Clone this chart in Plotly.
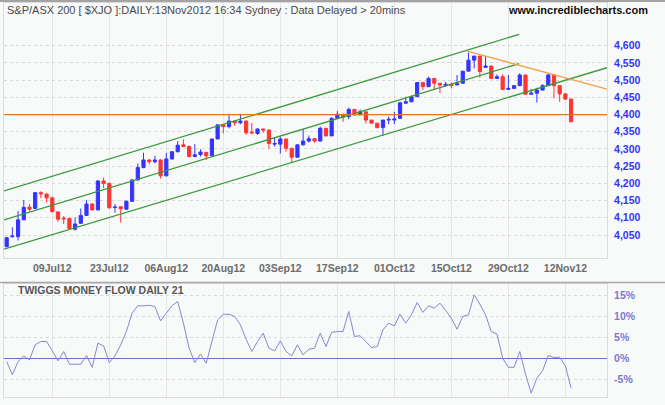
import pandas as pd
import plotly.graph_objects as go

# ---------------- data ----------------
dates = pd.bdate_range("2012-06-27", "2012-11-13")  # 100 ASX trading days

opens = [4016, 4045, 4045, 4094, 4131, 4127, 4173, 4169, 4158, 4117,
         4099, 4098, 4067, 4084, 4107, 4140, 4123, 4207, 4200, 4130,
         4132, 4125, 4148, 4210, 4246, 4268, 4263, 4268, 4222, 4271,
         4292, 4312, 4307, 4278, 4284, 4290, 4280, 4329, 4370, 4365,
         4381, 4376, 4381, 4349, 4345, 4358, 4355, 4314, 4314, 4329,
         4302, 4276, 4312, 4323, 4330, 4323, 4360, 4338, 4389, 4401,
         4394, 4415, 4399, 4408, 4384, 4375, 4362, 4384, 4384, 4389,
         4433, 4437, 4452, 4493, 4481, 4505, 4491, 4484, 4488, 4486,
         4491, 4526, 4558, 4570, 4537, 4541, 4505, 4510, 4473, 4476,
         4484, 4515, 4459, 4462, 4471, 4484, 4515, 4484, 4460, 4445]
highs = [4045, 4072, 4120, 4152, 4140, 4175, 4177, 4170, 4161, 4119,
         4105, 4101, 4101, 4127, 4152, 4142, 4209, 4217, 4202, 4140,
         4133, 4150, 4212, 4258, 4289, 4270, 4280, 4270, 4289, 4294,
         4323, 4328, 4311, 4314, 4299, 4290, 4329, 4370, 4371, 4402,
         4382, 4402, 4382, 4376, 4360, 4358, 4355, 4334, 4336, 4329,
         4302, 4312, 4358, 4339, 4330, 4365, 4360, 4392, 4410, 4401,
         4420, 4415, 4415, 4408, 4384, 4375, 4384, 4394, 4408, 4437,
         4452, 4455, 4493, 4493, 4510, 4505, 4491, 4495, 4493, 4515,
         4526, 4580, 4570, 4570, 4570, 4541, 4517, 4517, 4515, 4484,
         4520, 4515, 4474, 4478, 4488, 4520, 4515, 4484, 4462, 4445]
lows = [4014, 4043, 4034, 4094, 4118, 4125, 4157, 4144, 4115, 4089,
        4082, 4065, 4063, 4082, 4105, 4121, 4121, 4186, 4127, 4115,
        4086, 4123, 4146, 4208, 4244, 4255, 4258, 4214, 4220, 4269,
        4290, 4305, 4276, 4276, 4278, 4268, 4278, 4329, 4345, 4360,
        4367, 4372, 4341, 4343, 4341, 4347, 4300, 4307, 4287, 4292,
        4260, 4275, 4310, 4319, 4318, 4323, 4336, 4338, 4389, 4379,
        4386, 4396, 4399, 4374, 4375, 4360, 4338, 4372, 4372, 4387,
        4433, 4437, 4452, 4471, 4481, 4474, 4462, 4481, 4476, 4486,
        4491, 4526, 4534, 4507, 4537, 4505, 4503, 4473, 4473, 4476,
        4484, 4459, 4459, 4435, 4471, 4484, 4447, 4437, 4442, 4379]
closes = [4042, 4047, 4094, 4130, 4125, 4173, 4170, 4158, 4118, 4096,
          4097, 4069, 4082, 4107, 4140, 4123, 4207, 4200, 4129, 4131,
          4126, 4148, 4210, 4246, 4268, 4263, 4268, 4222, 4271, 4292,
          4311, 4307, 4278, 4283, 4291, 4280, 4329, 4370, 4365, 4381,
          4376, 4381, 4347, 4347, 4358, 4355, 4316, 4316, 4329, 4302,
          4276, 4312, 4323, 4330, 4323, 4360, 4338, 4389, 4401, 4392,
          4415, 4399, 4408, 4384, 4375, 4362, 4384, 4386, 4387, 4434,
          4437, 4452, 4493, 4481, 4505, 4491, 4486, 4488, 4484, 4491,
          4526, 4558, 4570, 4525, 4541, 4505, 4510, 4473, 4476, 4484,
          4515, 4459, 4462, 4471, 4484, 4515, 4484, 4460, 4445, 4379]

tmf = [-0.8, -4.0, -0.8, 0.55, -0.4, 3.2, 4.0, 4.0, 1.8, -0.65,
       1.6, -1.45, -1.45, -1.45, 0.63, -2.2, 3.6, 2.95, -1.05, 0.55,
       3.2, 6.4, 10.8, 12.6, 12.55, 12.7, 12.4, 8.95, 10.8, 12.6,
       13.6, 8.4, 2.4, -1.05, 1.0, -1.2, 4.0, 9.2, 10.55, 10.55,
       10.0, 8.0, 4.55, 1.6, 4.0, 6.0, 2.4, 1.75, 4.15, 1.6,
       0.55, 3.2, 0.8, 2.15, 2.4, 6.0, 2.8, 6.2, 6.4, 6.4,
       11.2, 5.2, 5.4, 4.0, 2.55, 2.8, 6.8, 8.4, 7.75, 10.55,
       8.4, 10.4, 13.35, 11.0, 12.55, 12.0, 13.2, 11.45, 9.6, 6.95,
       10.0, 10.4, 15.2, 13.0, 10.4, 6.4, 5.8, 0.0, -2.2, -2.2,
       1.6, -3.8, -8.4, -4.8, -3.0, 0.65, 0.15, 0.25, -1.85, -7.2]

x_tick_labels = ["09Jul12", "23Jul12", "06Aug12", "20Aug12", "03Sep12",
                 "17Sep12", "01Oct12", "15Oct12", "29Oct12", "12Nov12"]
price_ticks = [4050, 4100, 4150, 4200, 4250, 4300, 4350, 4400, 4450, 4500, 4550, 4600]
price_tick_text = ["4,050", "4,100", "4,150", "4,200", "4,250", "4,300",
                   "4,350", "4,400", "4,450", "4,500", "4,550", "4,600"]
tmf_ticks = [15, 10, 5, 0, -5]
tmf_tick_text = ["15%", "10%", "5%", "0%", "-5%"]

# user-drawn trend lines: (trading-day index, price) anchors
channel_upper = ([-0.47, 89.9], [4178, 4633])
channel_middle = ([-0.47, 89.9], [4094, 4548])
channel_lower = ([-0.47, 105.3], [4009, 4536])
resistance_line = ([80.6, 105.3], [4585, 4474])
support_level = 4400

# ---------------- figure ----------------
idx = list(range(len(dates)))
labels_all = [d.strftime("%d%b%y") for d in dates]
tick_pos = [labels_all.index(t) for t in x_tick_labels]

BLUE = "#3434ff"
RED = "#ff3434"
GREEN = "#3a9a3a"
FONT = "Liberation Sans, Arial, sans-serif"

fig = go.Figure()

for xs, ys in (channel_upper, channel_middle, channel_lower):
    fig.add_trace(go.Scatter(x=xs, y=ys, mode="lines", line=dict(color=GREEN, width=1.3),
                             xaxis="x", yaxis="y", showlegend=False, hoverinfo="skip"))
fig.add_trace(go.Scatter(x=resistance_line[0], y=resistance_line[1], mode="lines",
                         line=dict(color="#f0a24c", width=1.3),
                         xaxis="x", yaxis="y", showlegend=False, hoverinfo="skip"))

fig.add_trace(go.Candlestick(
    x=idx, open=opens, high=highs, low=lows, close=closes,
    increasing=dict(line=dict(color=BLUE, width=1), fillcolor=BLUE),
    decreasing=dict(line=dict(color=RED, width=1), fillcolor=RED),
    whiskerwidth=0, xaxis="x", yaxis="y", showlegend=False))

fig.add_trace(go.Scatter(x=idx, y=tmf, mode="lines", line=dict(color="#8787cf", width=1),
                         xaxis="x2", yaxis="y2", showlegend=False))

xr = [-0.47, 105.3]
common_x = dict(range=xr, tickvals=tick_pos, ticktext=x_tick_labels, showgrid=True,
                gridcolor="#e6e6e6", gridwidth=1, ticks="", zeroline=False,
                showline=True, linecolor="#dcdcdc", mirror=True, fixedrange=True)

fig.update_layout(
    width=665, height=405,
    margin=dict(l=4, r=58, t=3, b=8),
    paper_bgcolor="#f8f9f9", plot_bgcolor="#f8f9f9",
    boxgap=0.2,
    font=dict(family=FONT),
    xaxis=dict(**common_x, anchor="y", rangeslider=dict(visible=False),
               tickfont=dict(family=FONT, size=10.5, color="#6c6c6c", weight="bold")),
    yaxis=dict(domain=[0.3528, 1], range=[3983.2, 4724.1], side="right",
               tickvals=price_ticks, ticktext=price_tick_text, showgrid=True,
               gridcolor="#d9d9d9", griddash="dot", zeroline=False, ticks="",
               showline=True, linecolor="#dcdcdc", mirror=True, ticklabelstandoff=4,
               tickfont=dict(family=FONT, size=10.5, color="#3535f5", weight="bold")),
    xaxis2=dict(**common_x, anchor="y2", matches="x", showticklabels=False),
    yaxis2=dict(domain=[0, 0.2868], range=[-9.32, 17.81], side="right",
                tickvals=tmf_ticks, ticktext=tmf_tick_text, showgrid=True,
                gridcolor="#d9d9d9", griddash="dot", zeroline=True,
                zerolinecolor="#6e6ec6", zerolinewidth=1, ticks="",
                showline=True, linecolor="#dcdcdc", mirror=True, ticklabelstandoff=4,
                tickfont=dict(family=FONT, size=10.5, color="#7a7acc", weight="bold")),
    shapes=[
        dict(type="line", xref="x domain", yref="y", x0=0, x1=1,
             y0=support_level, y1=support_level, line=dict(color="#d9782a", width=1.3)),
        dict(type="line", xref="paper", yref="paper", x0=-0.01, x1=1.1, y0=1.005, y1=1.005,
             line=dict(color="#a4a4a4", width=2)),
        dict(type="line", xref="paper", yref="paper", x0=-0.01, x1=1.1, y0=0.2906, y1=0.2906,
             line=dict(color="#a8a8a8", width=1.5)),
    ],
    annotations=[
        dict(text="S&P/ASX 200 [ $XJO ]:DAILY:13Nov2012 16:34 Sydney : Data Delayed > 20mins",
             xref="paper", yref="paper", x=0.0017, y=0.981, xanchor="left", yanchor="middle",
             showarrow=False, font=dict(family=FONT, size=11, color="#4a4a4a")),
        dict(text="www.incrediblecharts.com", xref="paper", yref="paper",
             x=(650 - 4) / 603, y=0.981, xanchor="right", yanchor="middle",
             showarrow=False, font=dict(family=FONT, size=11, color="#111111", weight="bold")),
        dict(text="TWIGGS MONEY FLOW DAILY 21", xref="paper", yref="paper",
             x=(16 - 4) / 603, y=(397 - 290) / 394, xanchor="left", yanchor="middle",
             showarrow=False, font=dict(family=FONT, size=10.5, color="#555555", weight="bold")),
    ],
)

fig.write_html("out.html", config={"displayModeBar": False},
               post_script="document.body.style.margin='0px';")
